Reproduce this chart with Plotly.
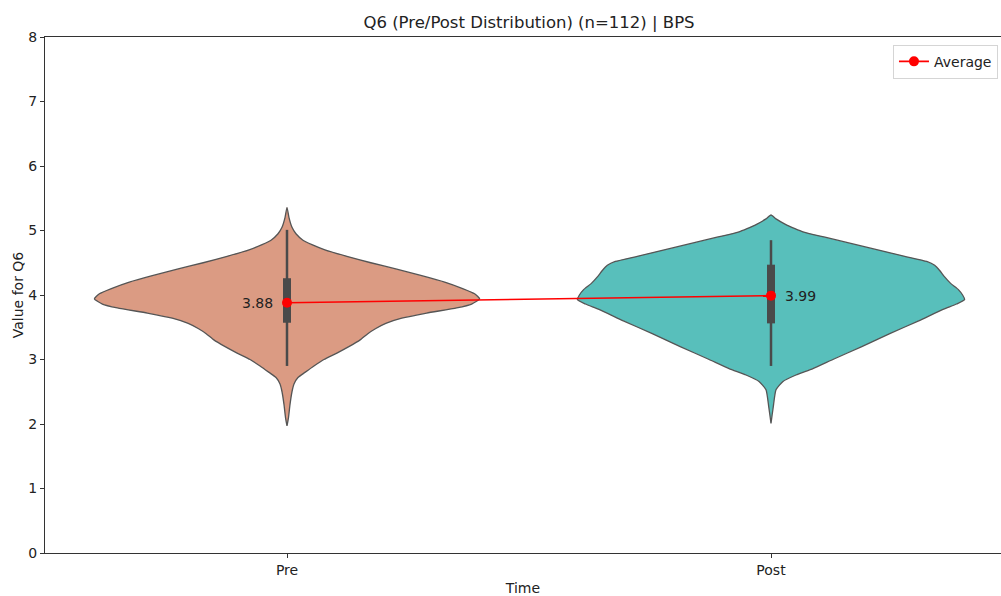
import plotly.graph_objects as go

# Categories and summary statistics
categories = ["Pre", "Post"]
means = [3.88, 3.99]
q1 = [3.57, 3.56]
q3 = [4.26, 4.47]
whisker_low = [2.90, 2.90]
whisker_high = [5.01, 4.85]

# Kernel density outline of each group: value levels and relative half-width
pre_levels = [5.36, 5.20, 5.05, 4.95, 4.85, 4.78, 4.70, 4.60, 4.50, 4.40, 4.30, 4.20,
              4.10, 4.02, 3.94, 3.86, 3.80, 3.72, 3.64, 3.56, 3.48, 3.40, 3.30, 3.20,
              3.10, 3.00, 2.90, 2.80, 2.72, 2.62, 2.50, 2.30, 2.10, 1.97]
pre_density = [0, 2, 5, 9, 16, 25, 38, 60, 84, 110, 135, 158,
               176, 188, 193, 185, 170, 140, 115, 99, 89, 81, 73, 62,
               50, 37, 27, 18, 11, 7, 5, 3, 1.5, 0]

post_levels = [5.24, 5.18, 5.10, 5.03, 4.98, 4.90, 4.80, 4.70, 4.60, 4.52, 4.46, 4.38,
               4.28, 4.18, 4.08, 4.00, 3.93, 3.86, 3.78, 3.60, 3.40, 3.20, 3.00, 2.86,
               2.76, 2.66, 2.53, 2.27, 2.01]
post_density = [0, 5, 14, 24, 32, 53, 80, 107, 134, 156, 164, 169,
                174, 180, 188, 192, 194, 186, 173, 148, 119, 91, 62, 42,
                25, 12, 5, 2.3, 0]

fill_colors = ["#DB9B83", "#58BFBB"]
outline_color = "#555555"
box_color = "#4A4A4A"
violin_half_width = 0.4

fig = go.Figure()

peak = max(max(pre_density), max(post_density))
profiles = [(pre_levels, pre_density), (post_levels, post_density)]
for i, (levels, dens) in enumerate(profiles):
    half = [violin_half_width * d / peak for d in dens]
    xs = [i + h for h in half] + [i - h for h in reversed(half)]
    ys = list(levels) + list(reversed(levels))
    fig.add_trace(go.Scatter(
        x=xs, y=ys, mode="lines", fill="toself", fillcolor=fill_colors[i],
        line=dict(color=outline_color, width=1.3, shape="spline", smoothing=0.5),
        showlegend=False, hoverinfo="skip"))

    # whisker and interquartile bar
    fig.add_trace(go.Scatter(
        x=[i, i], y=[whisker_low[i], whisker_high[i]], mode="lines",
        line=dict(color=box_color, width=2.5), showlegend=False, hoverinfo="skip"))
    fig.add_trace(go.Scatter(
        x=[i, i], y=[q1[i], q3[i]], mode="lines",
        line=dict(color=box_color, width=8), showlegend=False, hoverinfo="skip"))

# Average line connecting the group means
fig.add_trace(go.Scatter(
    x=[0, 1], y=means, mode="lines+markers", name="Average",
    line=dict(color="#FF0000", width=1.6),
    marker=dict(color="#FF0000", size=10)))

# Mean value labels, offset from the markers
fig.add_annotation(x=0, y=means[0], text=f"{means[0]:.2f}", showarrow=False,
                   xanchor="right", xshift=-12, font=dict(size=14, color="#222222"))
fig.add_annotation(x=1, y=means[1], text=f"{means[1]:.2f}", showarrow=False,
                   xanchor="left", xshift=12, font=dict(size=14, color="#222222"))

font_family = "DejaVu Sans"
fig.update_layout(
    width=1001, height=596,
    margin=dict(l=45, r=0, t=37, b=43),
    paper_bgcolor="white", plot_bgcolor="white",
    font=dict(family=font_family, size=13, color="#222222"),
    title=dict(text="Q6 (Pre/Post Distribution) (n=112) | BPS",
               x=0.5285, xanchor="center", y=0.963, yanchor="middle",
               font=dict(size=16.5, color="#222222")),
    legend=dict(x=0.887, y=0.985, xanchor="left", yanchor="top",
                bgcolor="white", bordercolor="#D5D5D5", borderwidth=1,
                itemwidth=30, font=dict(size=14, color="#222222")),
    showlegend=True,
)
fig.update_xaxes(
    range=[-0.5, 1.4752], tickmode="array", tickvals=[0, 1], ticktext=categories,
    showgrid=False, zeroline=False, showline=True, linecolor="#333333", linewidth=1,
    mirror=True, ticks="outside", ticklen=4, tickcolor="#333333",
    tickfont=dict(size=14),
    title=dict(text="Time", standoff=9, font=dict(size=14)),
)
fig.update_yaxes(
    range=[0, 8], tickmode="array", tickvals=list(range(0, 9)),
    showgrid=False, zeroline=False, showline=True, linecolor="#333333", linewidth=1,
    ticks="outside", ticklen=4, tickcolor="#333333",
    tickfont=dict(size=14),
    title=dict(text="Value for Q6", standoff=1, font=dict(size=14)),
)

fig.write_html("out.html")
